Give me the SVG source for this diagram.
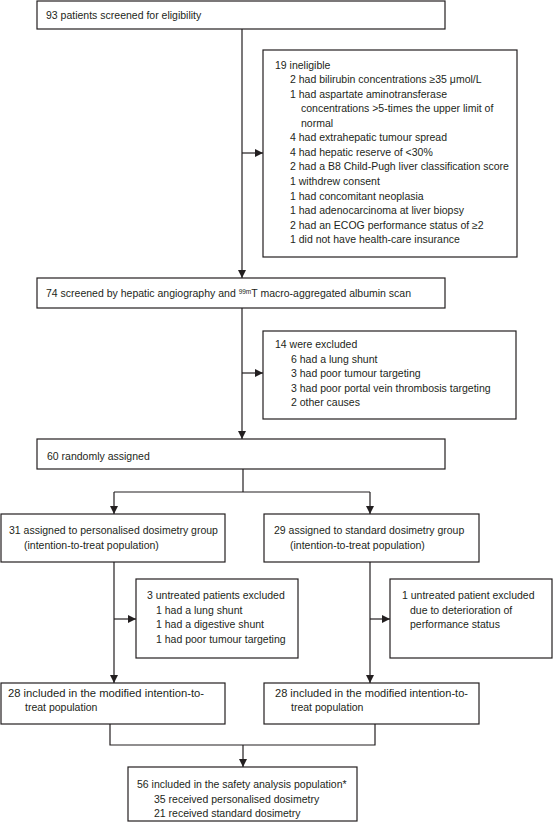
<svg xmlns="http://www.w3.org/2000/svg" width="553" height="822" viewBox="0 0 553 822">
<defs>
<style>
.box{fill:#fff;stroke:#231f20;stroke-width:1.2}
.ln{fill:none;stroke:#231f20;stroke-width:1.2}
text{font-family:"Liberation Sans",Arial,sans-serif;font-size:10.5px;fill:#231f20}
</style>
<marker id="ah" viewBox="0 0 10 10" refX="10" refY="5" markerWidth="8" markerHeight="8" markerUnits="userSpaceOnUse" orient="auto">
<path d="M0,0 L10,5 L0,10 Z" fill="#231f20"/>
</marker>
</defs>
<rect width="553" height="822" fill="#fff"/>
<g id="connectors">
<line class="ln" x1="242" y1="29" x2="242" y2="278" marker-end="url(#ah)"/>
<line class="ln" x1="242" y1="153" x2="263" y2="153" marker-end="url(#ah)"/>
<line class="ln" x1="242" y1="308" x2="242" y2="439" marker-end="url(#ah)"/>
<line class="ln" x1="242" y1="373" x2="263" y2="373" marker-end="url(#ah)"/>
<polyline class="ln" points="243,469 243,492"/>
<polyline class="ln" points="114,492 370,492"/>
<line class="ln" x1="114" y1="492" x2="114" y2="514" marker-end="url(#ah)"/>
<line class="ln" x1="370" y1="492" x2="370" y2="514" marker-end="url(#ah)"/>
<line class="ln" x1="114" y1="562" x2="114" y2="683" marker-end="url(#ah)"/>
<line class="ln" x1="114" y1="619" x2="136" y2="619" marker-end="url(#ah)"/>
<line class="ln" x1="370" y1="562" x2="370" y2="683" marker-end="url(#ah)"/>
<line class="ln" x1="370" y1="619" x2="390" y2="619" marker-end="url(#ah)"/>
<polyline class="ln" points="110,724 110,745 375,745 375,724"/>
<line class="ln" x1="243" y1="745" x2="243" y2="767" marker-end="url(#ah)"/>
</g>
<g id="screened">
<rect class="box" x="37" y="1" width="408" height="28"/>
<text x="46" y="19">93 patients screened for eligibility</text>
</g>
<g id="ineligible">
<rect class="box" x="263" y="50" width="254" height="207"/>
<text x="275" y="68.5">19 ineligible</text>
<text x="290" y="83">2 had bilirubin concentrations ≥35 μmol/L</text>
<text x="290" y="97.6">1 had aspartate aminotransferase</text>
<text x="301" y="112.2">concentrations &gt;5-times the upper limit of</text>
<text x="301" y="126.7">normal</text>
<text x="290" y="141.3">4 had extrahepatic tumour spread</text>
<text x="290" y="155.8">4 had hepatic reserve of &lt;30%</text>
<text x="290" y="170.4">2 had a B8 Child-Pugh liver classification score</text>
<text x="290" y="184.9">1 withdrew consent</text>
<text x="290" y="199.5">1 had concomitant neoplasia</text>
<text x="290" y="214">1 had adenocarcinoma at liver biopsy</text>
<text x="290" y="228.6">2 had an ECOG performance status of ≥2</text>
<text x="290" y="243.1">1 did not have health-care insurance</text>
</g>
<g id="angiography">
<rect class="box" x="37" y="278" width="408" height="30"/>
<text x="46" y="297">74 screened by hepatic angiography and <tspan dy="-3.5" font-size="6.5">99m</tspan><tspan dy="3.5">T macro-aggregated albumin scan</tspan></text>
</g>
<g id="excluded">
<rect class="box" x="263" y="331" width="253" height="88"/>
<text x="275" y="348">14 were excluded</text>
<text x="291" y="362.5">6 had a lung shunt</text>
<text x="291" y="377">3 had poor tumour targeting</text>
<text x="291" y="391.5">3 had poor portal vein thrombosis targeting</text>
<text x="291" y="406">2 other causes</text>
</g>
<g id="randomised">
<rect class="box" x="37" y="439" width="408" height="30"/>
<text x="47" y="460">60 randomly assigned</text>
</g>
<g id="personalised">
<rect class="box" x="1" y="514" width="224" height="48"/>
<text x="9" y="534">31 assigned to personalised dosimetry group</text>
<text x="24" y="549">(intention-to-treat population)</text>
</g>
<g id="standard">
<rect class="box" x="264" y="514" width="215" height="48"/>
<text x="274" y="534">29 assigned to standard dosimetry group</text>
<text x="290" y="549">(intention-to-treat population)</text>
</g>
<g id="untreated-personalised">
<rect class="box" x="136" y="579" width="162" height="79"/>
<text x="147" y="599">3 untreated patients excluded</text>
<text x="156" y="613.5">1 had a lung shunt</text>
<text x="156" y="628">1 had a digestive shunt</text>
<text x="156" y="642.5">1 had poor tumour targeting</text>
</g>
<g id="untreated-standard">
<rect class="box" x="390" y="579" width="162" height="79"/>
<text x="402" y="599">1 untreated patient excluded</text>
<text x="410" y="613.5">due to deterioration of</text>
<text x="410" y="628">performance status</text>
</g>
<g id="mitt-personalised">
<rect class="box" x="1" y="683" width="224" height="41"/>
<text x="8" y="697" textLength="196" lengthAdjust="spacingAndGlyphs">28 included in the modified intention-to-</text>
<text x="25" y="711">treat population</text>
</g>
<g id="mitt-standard">
<rect class="box" x="264" y="683" width="215" height="41"/>
<text x="275" y="697" textLength="193" lengthAdjust="spacingAndGlyphs">28 included in the modified intention-to-</text>
<text x="291" y="711">treat population</text>
</g>
<g id="safety">
<rect class="box" x="128" y="767" width="229" height="54"/>
<text x="137" y="788">56 included in the safety analysis population*</text>
<text x="154" y="803">35 received personalised dosimetry</text>
<text x="154" y="817">21 received standard dosimetry</text>
</g>
</svg>
